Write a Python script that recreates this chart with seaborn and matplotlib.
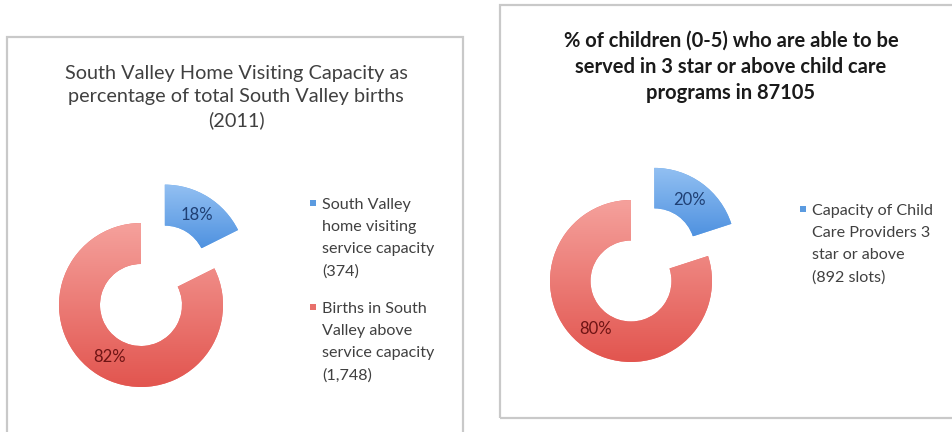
import numpy as np
import matplotlib
matplotlib.use("Agg")
import matplotlib.pyplot as plt
from matplotlib.patches import Rectangle
from matplotlib.colors import LinearSegmentedColormap
import seaborn as sns

# ---- data -------------------------------------------------------------
left_title = ("South Valley Home Visiting Capacity as\n"
              "percentage of total South Valley births\n(2011)")
left_labels = ["South Valley\nhome visiting\nservice capacity\n(374)",
               "Births in South\nValley above\nservice capacity\n(1,748)"]
left_counts = [374, 1748]

right_title = ("% of children (0-5) who are able to be\n"
               "served in 3 star or above child care\nprograms in 87105")
right_labels = ["Capacity of Child\nCare Providers 3\nstar or above\n(892 slots)"]
right_shares = [20, 80]

# ---- style ------------------------------------------------------------
sns.set_theme(style="white")
plt.rcParams["font.family"] = ["Lato", "DejaVu Sans"]

palette = sns.color_palette(["#6aa7ea", "#ec6e69"])
grad_stops = [("#4f92e0", "#93c0f2"),   # blue: bottom -> top
              ("#e2554f", "#f5a19c")]   # red:  bottom -> top
pct_colors = ["#1f3f73", "#6e1414"]
legend_marker = ["#5b9be0", "#e8706b"]

W, H = 952, 432
fig = plt.figure(figsize=(W / 100, H / 100), dpi=100)
fig.patch.set_facecolor("white")


def fx(x):
    return x / W


def fy(y):
    return 1 - y / H


# panel frames
for (x0, y0, x1, y1) in [(7, 37, 463, 460), (500, 5, 1000, 418)]:
    fig.add_artist(Rectangle((fx(x0), fy(y1)), fx(x1 - x0), (y1 - y0) / H,
                             transform=fig.transFigure, fill=False,
                             edgecolor="#c9c9c9", linewidth=1.6))


def donut(values, cx, cy, r, explode_blue, half=1.6):
    size = 2 * half * r
    ax = fig.add_axes([fx(cx - size / 2), fy(cy + size / 2), size / W, size / H])
    wedges, _, autotexts = ax.pie(
        values, startangle=90, counterclock=False,
        colors=palette, explode=[explode_blue, 0],
        autopct=lambda p: f"{p:.0f}%", pctdistance=0.74,
        wedgeprops=dict(width=0.5, linewidth=0),
        textprops=dict(fontsize=12))
    grad = np.linspace(0, 1, 256).reshape(-1, 1)
    for w, (lo, hi) in zip(wedges, grad_stops):
        bb = w.get_path().get_extents()
        cmap = LinearSegmentedColormap.from_list("g", [lo, hi])
        im = ax.imshow(grad, cmap=cmap, origin="lower", aspect="auto",
                       extent=(bb.x0, bb.x1, bb.y0, bb.y1), zorder=w.get_zorder() + 0.1)
        im.set_clip_path(w)
    for t, c in zip(autotexts, pct_colors):
        t.set_color(c)
        t.set_zorder(10)
    ax.set_xlim(-half, half)
    ax.set_ylim(-half, half)
    ax.set_aspect("equal")
    ax.axis("off")
    return ax


donut(left_counts, 141, 305, 82, 0.55)
donut(right_shares, 631, 281, 81, 0.49)

# titles (block centred on the middle line)
fig.text(fx(236), fy(97), left_title, ha="center", va="center", fontsize=14.3,
         color="#404040", linespacing=1.4)
fig.text(fx(731), fy(67), right_title, ha="center", va="center", fontsize=14.5,
         fontweight="bold", color="#1a1a1a", linespacing=1.37)


# legends
def legend(labels, x, tops):
    for lab, top, col in zip(labels, tops, legend_marker):
        fig.add_artist(Rectangle((fx(x), fy(top + 3)), 6 / W, 6 / H,
                                 transform=fig.transFigure, facecolor=col,
                                 edgecolor="none"))
        fig.text(fx(x + 12), fy(top - 5), lab, ha="left", va="top", fontsize=11.6,
                 color="#404040", linespacing=1.74)


legend(left_labels, 310, [203, 307])
legend(right_labels, 800, [209])

fig.savefig("out.png", dpi=100, facecolor="white")
